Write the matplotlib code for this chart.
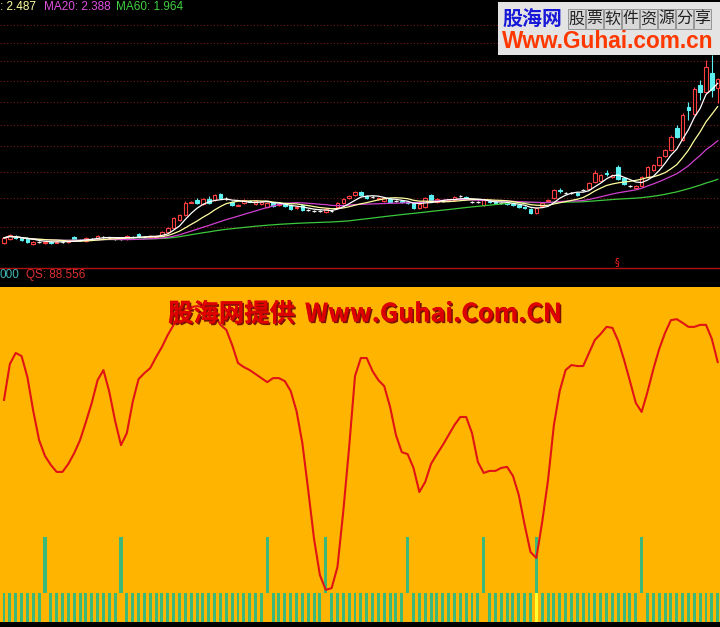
import matplotlib
matplotlib.use('Agg')
import matplotlib.pyplot as plt
import matplotlib.patheffects as pe
from matplotlib.patches import Rectangle
from matplotlib.lines import Line2D
import numpy as np
import pandas as pd

plt.rcParams['font.family'] = ['Liberation Sans', 'Noto Sans CJK SC', 'DejaVu Sans']

# ---- price data (one candle per bar) ----
opens = [1.28, 1.32, 1.35, 1.33, 1.33, 1.26, 1.29, 1.28, 1.29, 1.28, 1.29, 1.29, 1.34, 1.31, 1.30, 1.32,
         1.32, 1.34, 1.33, 1.32, 1.32, 1.32, 1.34, 1.37, 1.34, 1.34, 1.34, 1.35, 1.39, 1.43, 1.52, 1.57,
         1.70, 1.73, 1.69, 1.74, 1.73, 1.79, 1.74, 1.71, 1.67, 1.70, 1.72, 1.69, 1.69, 1.66, 1.70, 1.68,
         1.69, 1.68, 1.65, 1.68, 1.63, 1.61, 1.61, 1.60, 1.61, 1.66, 1.70, 1.75, 1.78, 1.82, 1.77, 1.76,
         1.74, 1.72, 1.74, 1.72, 1.72, 1.71, 1.70, 1.65, 1.66, 1.78, 1.71, 1.72, 1.72, 1.73, 1.77, 1.76,
         1.71, 1.71, 1.68, 1.72, 1.71, 1.70, 1.70, 1.69, 1.68, 1.66, 1.64, 1.59, 1.67, 1.72, 1.75, 1.84,
         1.81, 1.81, 1.81, 1.84, 1.85, 1.92, 1.93, 2.02, 1.97, 2.08, 1.96, 1.88, 1.86, 1.88, 1.97, 2.05,
         2.10, 2.20, 2.26, 2.49, 2.37, 2.72, 2.64, 2.95, 2.88, 3.08, 2.92]
closes = [1.33, 1.36, 1.33, 1.31, 1.29, 1.29, 1.29, 1.29, 1.28, 1.29, 1.29, 1.30, 1.31, 1.31, 1.33, 1.32,
          1.35, 1.34, 1.33, 1.32, 1.32, 1.35, 1.34, 1.35, 1.34, 1.35, 1.35, 1.39, 1.43, 1.54, 1.57, 1.70,
          1.71, 1.70, 1.74, 1.70, 1.78, 1.75, 1.74, 1.68, 1.68, 1.73, 1.71, 1.72, 1.71, 1.70, 1.67, 1.69,
          1.67, 1.64, 1.66, 1.63, 1.63, 1.61, 1.61, 1.64, 1.61, 1.70, 1.74, 1.77, 1.82, 1.78, 1.75, 1.76,
          1.75, 1.75, 1.71, 1.72, 1.71, 1.70, 1.65, 1.69, 1.75, 1.73, 1.74, 1.72, 1.73, 1.76, 1.77, 1.75,
          1.71, 1.71, 1.73, 1.71, 1.70, 1.70, 1.69, 1.68, 1.66, 1.65, 1.59, 1.65, 1.70, 1.73, 1.84, 1.83,
          1.81, 1.81, 1.78, 1.84, 1.91, 2.02, 2.00, 2.01, 2.00, 1.95, 1.90, 1.88, 1.88, 1.97, 2.08, 2.10,
          2.19, 2.26, 2.40, 2.40, 2.63, 2.69, 2.91, 2.88, 3.14, 2.90, 3.01]
highs = [1.34, 1.37, 1.36, 1.34, 1.34, 1.30, 1.30, 1.30, 1.30, 1.30, 1.30, 1.31, 1.35, 1.32, 1.34, 1.33,
         1.36, 1.35, 1.34, 1.33, 1.33, 1.36, 1.35, 1.38, 1.35, 1.36, 1.36, 1.40, 1.44, 1.55, 1.58, 1.72,
         1.72, 1.75, 1.75, 1.77, 1.79, 1.81, 1.76, 1.72, 1.69, 1.74, 1.73, 1.73, 1.72, 1.71, 1.71, 1.70,
         1.70, 1.69, 1.67, 1.69, 1.64, 1.63, 1.63, 1.65, 1.63, 1.71, 1.75, 1.78, 1.83, 1.83, 1.78, 1.77,
         1.76, 1.76, 1.75, 1.73, 1.73, 1.72, 1.71, 1.70, 1.76, 1.79, 1.75, 1.73, 1.74, 1.77, 1.78, 1.77,
         1.72, 1.72, 1.74, 1.73, 1.72, 1.71, 1.71, 1.70, 1.69, 1.67, 1.65, 1.66, 1.71, 1.74, 1.85, 1.86,
         1.82, 1.82, 1.82, 1.85, 1.92, 2.05, 2.01, 2.05, 2.01, 2.10, 1.97, 1.89, 1.89, 1.99, 2.09, 2.11,
         2.20, 2.27, 2.42, 2.53, 2.65, 2.77, 2.93, 3.00, 3.22, 3.27, 3.02]
lows = [1.26, 1.31, 1.32, 1.30, 1.28, 1.25, 1.28, 1.26, 1.26, 1.28, 1.28, 1.28, 1.30, 1.30, 1.29, 1.31,
        1.31, 1.33, 1.32, 1.31, 1.31, 1.31, 1.33, 1.35, 1.33, 1.33, 1.34, 1.34, 1.38, 1.42, 1.51, 1.56,
        1.70, 1.69, 1.68, 1.69, 1.72, 1.74, 1.73, 1.67, 1.67, 1.69, 1.71, 1.68, 1.68, 1.65, 1.66, 1.67,
        1.66, 1.63, 1.64, 1.61, 1.61, 1.60, 1.60, 1.59, 1.60, 1.65, 1.69, 1.74, 1.77, 1.77, 1.74, 1.75,
        1.73, 1.71, 1.70, 1.71, 1.70, 1.69, 1.64, 1.64, 1.65, 1.72, 1.70, 1.71, 1.72, 1.72, 1.76, 1.74,
        1.70, 1.70, 1.67, 1.70, 1.69, 1.69, 1.68, 1.67, 1.65, 1.64, 1.58, 1.58, 1.66, 1.72, 1.74, 1.81,
        1.79, 1.79, 1.77, 1.83, 1.84, 1.91, 1.92, 1.99, 1.96, 1.94, 1.89, 1.87, 1.85, 1.87, 1.96, 2.04,
        2.09, 2.19, 2.25, 2.39, 2.36, 2.58, 2.63, 2.79, 2.87, 2.82, 2.76]
price_grid = [1.44, 1.75, 2.03, 2.30, 2.53, 2.77, 2.99, 3.20, 3.40, 3.59]

# ---- QS indicator ----
qs = [66.3, 77.0, 80.3, 79.4, 73.1, 63.0, 54.3, 49.6, 46.9, 44.8, 44.8, 47.2, 50.4, 54.3, 59.7, 65.4,
      72.2, 75.2, 68.7, 60.0, 52.8, 56.4, 65.7, 72.5, 74.3, 75.8, 79.1, 82.1, 85.7, 88.7, 91.3, 93.5,
      94.0, 94.3, 94.0, 93.0, 91.5, 88.7, 87.2, 82.7, 77.3, 76.1, 75.2, 74.0, 72.8, 71.6, 72.8, 72.8,
      71.9, 69.0, 63.0, 53.4, 39.4, 24.8, 14.0, 9.6, 10.1, 16.4, 33.1, 52.2, 73.4, 78.8, 78.8, 74.9,
      72.2, 70.4, 64.2, 55.8, 50.7, 50.1, 46.0, 38.8, 41.8, 47.2, 50.1, 52.8, 55.8, 58.8, 61.2, 61.2,
      56.4, 47.8, 44.5, 45.1, 45.1, 46.0, 46.3, 43.6, 37.9, 29.0, 20.9, 19.1, 29.9, 42.4, 58.8, 69.0,
      75.2, 76.7, 76.4, 76.4, 80.3, 84.2, 86.0, 88.1, 87.8, 83.9, 78.2, 71.9, 65.4, 62.7, 68.7, 75.5,
      81.5, 86.3, 90.1, 90.4, 89.3, 88.1, 88.1, 88.7, 88.7, 84.5, 77.6]
signal_bars = [7, 20, 45, 55, 69, 82, 91, 109]   # tall sticks
hit_bars = [91]                                  # yellow base stick
base_level = 8.7
signal_level = 25.4

W, H = 720, 627
n = len(closes)
x = np.arange(n)
XLIM = (-4 / 5.85, 716 / 5.85)


def fy(py):
    return 1 - py / H


fig = plt.figure(figsize=(7.2, 6.27), dpi=100, facecolor='black')

# ---- K-line panel ----
ax = fig.add_axes([0, fy(267), 1, 267 / H])
ax.set_facecolor('black')
ax.set_xlim(*XLIM)
ax.set_ylim(1.021, 3.851)
ax.axis('off')
for g in price_grid:
    ax.axhline(g, color='#7a1a1a', lw=0.8, ls=(0, (1, 2)), zorder=0)

up_c, dn_c = '#ff4040', '#5cf0f0'
for i in x:
    o, c, h, l = opens[i], closes[i], highs[i], lows[i]
    if c > o:
        col = up_c
    elif c < o:
        col = dn_c
    else:
        col = '#f0f0f0'
    lo_b, hi_b = min(o, c), max(o, c)
    ax.vlines(i, l, lo_b, color=col, lw=0.8, zorder=2)
    ax.vlines(i, hi_b, h, color=col, lw=0.8, zorder=2)
    if c == o:
        ax.hlines(o, i - 0.3, i + 0.3, color=col, lw=0.9, zorder=3)
    else:
        face = 'black' if c > o else dn_c
        ax.add_patch(Rectangle((i - 0.3, lo_b), 0.6, hi_b - lo_b, facecolor=face,
                               edgecolor=col, lw=0.8, zorder=3))

s = pd.Series(closes)
for win, col in [(60, '#3cc83c'), (20, '#d040d0'), (10, '#ffffa0'), (5, '#ffffff')]:
    ax.plot(x, s.rolling(win, min_periods=1).mean(), color=col, lw=0.9, zorder=4)

fig.add_artist(Line2D([0, 1], [fy(267.5)] * 2, color='#b01010', lw=1))

# legend texts
fig.text(0, fy(7), ': 2.487', color='#ffffa0', fontsize=8.5, va='center')
fig.text(44 / W, fy(7), 'MA20: 2.388', color='#e050e0', fontsize=8.5, va='center')
fig.text(116 / W, fy(7), 'MA60: 1.964', color='#40d040', fontsize=8.5, va='center')
fig.text(0, fy(275), '000', color='#40b8b8', fontsize=8.5, va='center')
fig.text(26 / W, fy(275), 'QS: 88.556', color='#e03030', fontsize=8.5, va='center')
fig.text(617 / W, fy(262), '§', color='#ff2020', fontsize=7, ha='center', va='center',
         family=['DejaVu Sans'])

# logo box
fig.add_artist(Rectangle((498 / W, fy(55)), 222 / W, 53 / H, transform=fig.transFigure,
                         facecolor='#e4e4e4', edgecolor='none', zorder=5))
for k in range(8):
    fig.add_artist(Rectangle(((568 + 18 * k) / W, fy(29)), 17 / W, 20 / H,
                             transform=fig.transFigure, facecolor='#d8d8d8',
                             edgecolor='#8a8a8a', lw=0.6, zorder=6))
fig.canvas.draw()
renderer = fig.canvas.get_renderer()


def fit(t, width_px):
    bb = t.get_window_extent(renderer)
    t.set_fontsize(t.get_fontsize() * width_px / bb.width)


t1 = fig.text(502 / W, fy(18), '股海网', color='#1818d8', fontsize=15, fontweight='bold',
              va='center', family=['Noto Sans CJK SC'], zorder=7)
fit(t1, 60)
for k, ch in enumerate('股票软件资源分享'):
    fig.text((568 + 18 * k + 8.5) / W, fy(19), ch, color='#202020', fontsize=11.5,
             ha='center', va='center', family=['Noto Sans CJK SC'], zorder=7)
t2 = fig.text(502 / W, fy(42), 'Www.Guhai.com.cn', color='#ff3800', fontsize=16,
              fontweight='bold', va='center', zorder=7)
fit(t2, 211)

# ---- QS panel ----
ax2 = fig.add_axes([0, fy(622), 1, 335 / H])
ax2.set_facecolor('#ffb400')
ax2.set_xlim(*XLIM)
ax2.set_ylim(0, 100)
ax2.set_xticks([])
ax2.set_yticks([])
for sp in ax2.spines.values():
    sp.set_visible(False)

base_x = [i for i in x if i not in signal_bars]
ax2.bar(base_x, base_level, width=0.5, color='#3cb878', antialiased=False, zorder=2)
ax2.bar(hit_bars, base_level, width=0.5, color='#ffff30', antialiased=False, zorder=2)
ax2.bar(signal_bars, signal_level - base_level, bottom=base_level, width=0.55,
        color='#3cb878', antialiased=False, zorder=2)
ax2.plot(x, qs, color='#e01414', lw=1.5, zorder=3)

shadow = [pe.withSimplePatchShadow(offset=(1.2, -1.2), shadow_rgbFace='#6a0000', alpha=0.9),
          pe.Normal()]
t3 = fig.text(168 / W, fy(314), '股海网提供', color='#dc0000', fontsize=18, fontweight='bold',
              va='center', family=['Noto Sans CJK SC'], path_effects=shadow)
fit(t3, 127)
t4 = fig.text(305 / W, fy(314), 'Www.Guhai.Com.CN', color='#dc0000', fontsize=18,
              fontweight='bold', va='center', family=['Noto Sans CJK SC'], path_effects=shadow)
fit(t4, 257)

fig.savefig('out.png', dpi=100, facecolor='black')
